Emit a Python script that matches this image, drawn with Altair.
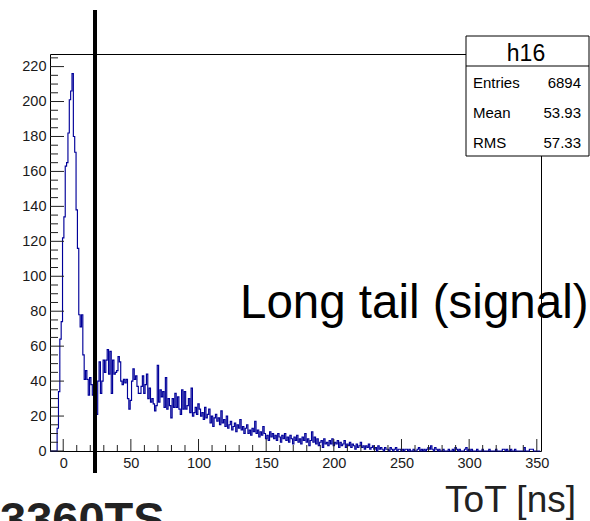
import altair as alt
import pandas as pd
import numpy as np

# ---------------- data (bin counts, 1 ns bins centred on integers) ----------------
bin_first_center = -9
counts_pre = [0, 0, 0, 0, 0]                                   # -9 .. -5
counts_peak = [13, 34, 64, 74, 122, 134, 163, 165, 182, 201,   # -4 .. 5
               206, 216, 180, 171, 138, 116, 78, 71, 78, 55,   # 6 .. 15
               41, 46, 41, 32, 42, 38, 32, 32, 44]             # 16 .. 24
counts_bump = [21, 40, 51, 33, 40, 52, 45, 52, 58, 44,         # 25 .. 34
               57, 33, 52, 44, 45, 46, 54, 51, 40, 38,         # 35 .. 44
               41, 39, 41, 30, 24, 29, 40, 47, 41, 43,         # 45 .. 54
               37, 33, 33, 37, 43, 33, 38, 44, 30, 36,         # 55 .. 64
               28, 30, 27, 23, 26, 49, 28, 35, 31, 34,         # 65 .. 74
               25, 42, 24, 30, 26, 19, 30, 25, 33, 25,         # 75 .. 84
               31, 24, 21, 35, 24, 34, 24, 26, 30, 22,         # 85 .. 94
               36, 20, 22, 25, 21, 27, 24]                     # 95 .. 101
counts_decay = [20, 22, 18, 25, 19, 21, 24, 16, 20, 14,        # 102 .. 111
                19, 21, 17, 19, 15, 23, 16, 18, 14, 20,        # 112 .. 121
                13, 15, 17, 12, 14, 16, 11, 15, 13, 18,        # 122 .. 131
                12, 14, 10, 13, 15, 10, 12, 9, 13, 11,         # 132 .. 141
                17, 10, 12, 8, 11, 9, 14, 10, 7]               # 142 .. 150
counts_tail1 = [9, 6, 11, 8, 10, 7, 9, 6, 10, 8,               # 151 .. 160
                5, 9, 7, 10, 6, 8, 5, 9, 7, 4,
                8, 6, 9, 5, 7, 4, 8, 6, 10, 5,
                7, 3, 6, 11, 5, 8, 4, 7, 3, 5,
                6, 2, 7, 4, 5, 3, 6, 4, 7, 3]                  # 191 .. 200
counts_tail2 = [5, 4, 6, 2, 5, 3, 4, 6, 2, 4,                  # 201 .. 210
                3, 5, 2, 4, 3, 1, 4, 2, 3, 5,
                2, 3, 1, 3, 2, 4, 1, 2, 3, 1,
                2, 0, 3, 1, 2, 1, 0, 2, 1, 1,
                0, 2, 1, 0, 1, 2, 0, 1, 1, 0]                  # 241 .. 250
counts_far = [1, 0, 1, 1, 0, 1, 0, 0, 1, 0,                    # 251 .. 260
              0, 1, 2, 0, 1, 0, 1, 0, 1, 2,
              1, 3, 1, 0, 2, 1, 0, 1, 0, 0,
              1, 0, 0, 0, 1, 0, 0, 1, 0, 2,
              1, 0, 1, 0, 0, 0, 1, 2, 0, 1,
              0, 1, 0, 0, 0, 1, 0, 0, 0, 1,
              0, 0, 0, 0, 1, 0, 0, 0, 0, 1,
              0, 0, 0, 0, 1, 1, 0, 1, 0, 0,
              1, 0, 0, 1, 0, 0, 0, 0, 0, 0,
              2, 0, 0, 0, 1, 1, 1, 0, 0, 0,
              0, 0]                                            # 351 .. 352

x_major = [0, 50, 100, 150, 200, 250, 300, 350]
x_minor = [v for v in range(10, 350, 10) if v % 50 != 0]
y_major = [0, 20, 40, 60, 80, 100, 120, 140, 160, 180, 200, 220]
y_minor = [v for v in range(5, 230, 5) if v % 20 != 0]

cut_value = [23.5]
stat_names = ["Entries", "Mean", "RMS"]
stat_values = ["6894", "53.93", "57.33"]
hist_name = "h16"
note_text = "Long tail (signal)"
x_title = "ToT [ns]"
corner_text = "3360TS"

# ---------------- build table ----------------
counts = counts_pre + counts_peak + counts_bump + counts_decay + counts_tail1 + counts_tail2 + counts_far
edges = np.arange(len(counts) + 1) + bin_first_center - 0.5
hist = pd.DataFrame({"x": edges, "y": counts + [counts[-1]]})

W, H = 491, 397
FONT = "Liberation Sans"
xs = alt.Scale(domain=[-9.76, 353.1], nice=False, zero=False)
ys = alt.Scale(domain=[0, 227.2], nice=False, zero=False)
xaxis = alt.Axis(values=x_major, ticks=False, domain=False, grid=False, title=None,
                 labelFontSize=14.5, labelFont=FONT, labelColor="#1a1a1a", labelPadding=5,
                 labelFlush=False)
yaxis = alt.Axis(values=y_major, ticks=False, domain=False, grid=False, title=None,
                 labelFontSize=14.5, labelFont=FONT, labelColor="#1a1a1a", labelPadding=4)

X = lambda: alt.X("x:Q", scale=xs, axis=xaxis)
Y = lambda: alt.Y("y:Q", scale=ys, axis=yaxis)

line = alt.Chart(hist).mark_line(interpolate="step-after", color="#000099", strokeWidth=1.15).encode(
    x=X(), y=Y())

xmaj = alt.Chart(pd.DataFrame({"x": x_major})).mark_rule(color="#222", strokeWidth=1).encode(
    x=X(), y=alt.value(H), y2=alt.value(H - 12))
xmin = alt.Chart(pd.DataFrame({"x": x_minor})).mark_rule(color="#222", strokeWidth=1).encode(
    x=X(), y=alt.value(H), y2=alt.value(H - 6))
ymaj = alt.Chart(pd.DataFrame({"y": y_major})).mark_rule(color="#222", strokeWidth=1).encode(
    y=Y(), x=alt.value(0), x2=alt.value(14))
ymin = alt.Chart(pd.DataFrame({"y": y_minor})).mark_rule(color="#222", strokeWidth=1).encode(
    y=Y(), x=alt.value(0), x2=alt.value(8))

cut = alt.Chart(pd.DataFrame({"x": cut_value})).mark_rule(color="black", strokeWidth=4).encode(
    x=X(), y=alt.value(-44), y2=alt.value(419))

one = pd.DataFrame({"a": [0]})
box = alt.Chart(one).mark_rect(fill="white", stroke="black", strokeWidth=1).encode(
    x=alt.value(416), x2=alt.value(539), y=alt.value(-18), y2=alt.value(102))
sep = alt.Chart(one).mark_rule(color="black", strokeWidth=1).encode(
    x=alt.value(416), x2=alt.value(539), y=alt.value(12))
title_txt = alt.Chart(pd.DataFrame({"t": [hist_name]})).mark_text(
    font=FONT, fontSize=23, align="center", baseline="alphabetic", color="black").encode(
    text="t:N", x=alt.value(476), y=alt.value(7))
stats = pd.DataFrame({"n": stat_names, "v": stat_values, "yy": [34, 64, 94]})
stat_names_txt = alt.Chart(stats).mark_text(
    font=FONT, fontSize=15, align="left", baseline="alphabetic", color="black").encode(
    text="n:N", x=alt.value(423), y=alt.Y("yy:Q", scale=None))
stat_vals_txt = alt.Chart(stats).mark_text(
    font=FONT, fontSize=15, align="right", baseline="alphabetic", color="black").encode(
    text="v:N", x=alt.value(531), y=alt.Y("yy:Q", scale=None))

note = alt.Chart(pd.DataFrame({"t": [note_text]})).mark_text(
    font=FONT, fontSize=47.5, align="left", baseline="alphabetic", color="black").encode(
    text="t:N", x=alt.value(190), y=alt.value(264))
xt = alt.Chart(pd.DataFrame({"t": [x_title]})).mark_text(
    font=FONT, fontSize=37, align="right", baseline="alphabetic", color="#222").encode(
    text="t:N", x=alt.value(526), y=alt.value(458))
corner = alt.Chart(pd.DataFrame({"t": [corner_text]})).mark_text(
    font=FONT, fontSize=47, fontWeight="bold", align="left", baseline="alphabetic", color="#222").encode(
    text="t:N", x=alt.value(-50), y=alt.value(481))

chart = alt.layer(
    line, xmaj, xmin, ymaj, ymin, cut, box, sep, title_txt, stat_names_txt, stat_vals_txt,
    note, xt, corner
).properties(
    width=W, height=H,
    autosize=alt.AutoSizeParams(type="none"),
    padding={"left": 50, "top": 54, "right": 49, "bottom": 70},
    background="white",
).configure_view(stroke="black", strokeWidth=1)

chart.save("out.html", embed_options={"renderer": "svg", "actions": False})
